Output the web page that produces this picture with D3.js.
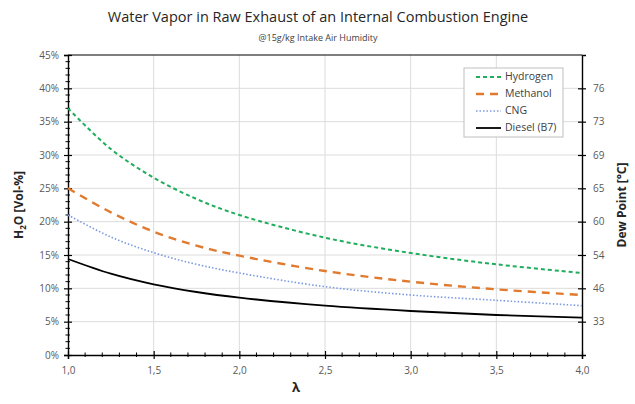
<!DOCTYPE html>
<html>
<head>
<meta charset="utf-8">
<script src="https://cdn.jsdelivr.net/npm/d3@7"></script>
<style>
  body { margin: 0; background: #fff; }
  svg text { font-family: "Open Sans", sans-serif; }
</style>
</head>
<body>
<svg id="chart" width="635" height="404"></svg>
<script>
// lambda values (x)
var lambdas = [1.0, 1.25, 1.5, 1.75, 2.0, 2.5, 3.0, 3.5, 4.0];

// H2O vol-% per fuel
var hydrogen = [37.0, 30.9, 26.6, 23.4, 21.0, 17.6, 15.3, 13.6, 12.3];
var methanol = [25.0, 21.4, 18.5, 16.4, 14.9, 12.6, 11.0, 9.85, 9.0];
var cng      = [21.0, 17.7, 15.35, 13.6, 12.3, 10.25, 9.0, 8.2, 7.4];
var diesel   = [14.4, 12.2, 10.6, 9.45, 8.6, 7.4, 6.6, 6.0, 5.6];

var seriesNames = ['Hydrogen', 'Methanol', 'CNG', 'Diesel (B7)'];

// dew point labels on the right axis, at these vol-% levels
var dewLevels = [5, 10, 15, 20, 25, 30, 35, 40];
var dewLabels = ['33', '46', '54', '60', '65', '69', '73', '76'];

var xTicks = [1.0, 1.5, 2.0, 2.5, 3.0, 3.5, 4.0];
var yTicks = [0, 5, 10, 15, 20, 25, 30, 35, 40, 45];

var svg = d3.select('#chart');

var x = d3.scaleLinear().domain([1, 4]).range([68, 582]);
var y = d3.scaleLinear().domain([0, 45]).range([355, 55]);

var styles = [
  {color: '#1fae5b', width: 2,   dash: '4,3'},
  {color: '#e07a2e', width: 2.4, dash: '8,6'},
  {color: '#7b9ae0', width: 1.6, dash: '1.5,2'},
  {color: '#000000', width: 1.8, dash: null}
];
var allSeries = [hydrogen, methanol, cng, diesel];

// gridlines
svg.append('g').selectAll('line.hg')
  .data(yTicks.slice(1, -1))
  .enter().append('line')
  .attr('x1', x(1)).attr('x2', x(4))
  .attr('y1', function(d){ return y(d); })
  .attr('y2', function(d){ return y(d); })
  .attr('stroke', '#dcdcdc').attr('stroke-width', 1);

svg.append('g').selectAll('line.vg')
  .data(xTicks.slice(1, -1))
  .enter().append('line')
  .attr('x1', function(d){ return x(d); })
  .attr('x2', function(d){ return x(d); })
  .attr('y1', y(0)).attr('y2', y(45))
  .attr('stroke', '#dcdcdc').attr('stroke-width', 1);

// top border
svg.append('line')
  .attr('x1', x(1)).attr('x2', x(4)).attr('y1', y(45)).attr('y2', y(45))
  .attr('stroke', '#000').attr('stroke-width', 1.2);

// left axis
var yAxis = d3.axisLeft(y).tickValues(yTicks)
  .tickFormat(function(d){ return d + '%'; })
  .tickSize(4).tickPadding(5);
var gy = svg.append('g').attr('transform', 'translate(' + x(1) + ',0)').call(yAxis);
var yMinor = d3.range(0, 46, 1).filter(function(d){ return d % 5 != 0; });
svg.append('g').selectAll('line')
  .data(yMinor).enter().append('line')
  .attr('x1', x(1) - 2.5).attr('x2', x(1) + 2)
  .attr('y1', function(d){ return y(d); }).attr('y2', function(d){ return y(d); })
  .attr('stroke', '#000').attr('stroke-width', 1);
gy.selectAll('.tick line').attr('x2', -4).attr('x1', 4);

// bottom axis
var xAxis = d3.axisBottom(x).tickValues(xTicks)
  .tickFormat(function(d){ return d3.format('.1f')(d).replace('.', ','); })
  .tickSize(4).tickPadding(8);
var gx = svg.append('g').attr('transform', 'translate(0,' + y(0) + ')').call(xAxis);
gx.selectAll('.tick line').attr('y1', -4).attr('y2', 4);
var xMinor = d3.range(10, 41, 1).map(function(d){ return d / 10; })
  .filter(function(d){ return Math.round(d * 10) % 5 != 0; });
svg.append('g').selectAll('line')
  .data(xMinor).enter().append('line')
  .attr('x1', function(d){ return x(d); }).attr('x2', function(d){ return x(d); })
  .attr('y1', y(0) - 2.5).attr('y2', y(0) + 2)
  .attr('stroke', '#000').attr('stroke-width', 1);

// right axis (dew point)
var yRight = d3.axisRight(y).tickValues(dewLevels)
  .tickFormat(function(d, i){ return dewLabels[i]; })
  .tickSize(4).tickPadding(7);
var gr = svg.append('g').attr('transform', 'translate(' + x(4) + ',0)').call(yRight);
gr.selectAll('.tick line').attr('x1', -4).attr('x2', 4);

[gy, gx, gr].forEach(function(g){
  g.select('.domain').attr('stroke', '#000').attr('stroke-width', 1.4);
  g.selectAll('.tick line').attr('stroke', '#000').attr('stroke-width', 1.2);
  g.selectAll('.tick text').attr('fill', '#595959').style('font-size', '10px');
});

// curves
var line = d3.line()
  .x(function(d, i){ return x(lambdas[i]); })
  .y(function(d){ return y(d); })
  .curve(d3.curveCatmullRom.alpha(0.5));

allSeries.forEach(function(s, i){
  svg.append('path')
    .attr('d', line(s))
    .attr('fill', 'none')
    .attr('stroke', styles[i].color)
    .attr('stroke-width', styles[i].width)
    .attr('stroke-dasharray', styles[i].dash);
});

// legend
var lg = svg.append('g');
lg.append('rect')
  .attr('x', 464).attr('y', 68).attr('width', 99).attr('height', 69)
  .attr('fill', '#fff').attr('stroke', '#bfbfbf').attr('stroke-width', 1);
seriesNames.forEach(function(name, i){
  var ly = 77 + i * 17;
  lg.append('line')
    .attr('x1', 476).attr('x2', 501).attr('y1', ly).attr('y2', ly)
    .attr('stroke', styles[i].color)
    .attr('stroke-width', styles[i].width)
    .attr('stroke-dasharray', styles[i].dash);
  lg.append('text')
    .attr('x', 505).attr('y', ly)
    .attr('dominant-baseline', 'middle')
    .attr('fill', '#404040')
    .style('font-size', '10.5px')
    .text(name);
});

// titles
svg.append('text')
  .attr('x', 318).attr('y', 22)
  .attr('text-anchor', 'middle')
  .attr('fill', '#262626')
  .style('font-size', '14.5px')
  .text('Water Vapor in Raw Exhaust of an Internal Combustion Engine');
svg.append('text')
  .attr('x', 318).attr('y', 41)
  .attr('text-anchor', 'middle')
  .attr('fill', '#404040')
  .style('font-size', '9px')
  .text('@15g/kg Intake Air Humidity');

// axis titles
var yt = svg.append('text')
  .attr('transform', 'translate(23,205) rotate(-90)')
  .attr('text-anchor', 'middle')
  .attr('fill', '#262626')
  .style('font-size', '12px').style('font-weight', 'bold');
yt.append('tspan').text('H');
yt.append('tspan').attr('dy', 3).style('font-size', '8px').text('2');
yt.append('tspan').attr('dy', -3).text('O [Vol-%]');

svg.append('text')
  .attr('transform', 'translate(626,205) rotate(-90)')
  .attr('text-anchor', 'middle')
  .attr('fill', '#262626')
  .style('font-size', '12px').style('font-weight', 'bold')
  .text('Dew Point [°C]');

svg.append('text')
  .attr('x', 296).attr('y', 392)
  .attr('text-anchor', 'middle')
  .attr('fill', '#262626')
  .style('font-size', '13px').style('font-weight', 'bold')
  .text('λ');
</script>
</body>
</html>
